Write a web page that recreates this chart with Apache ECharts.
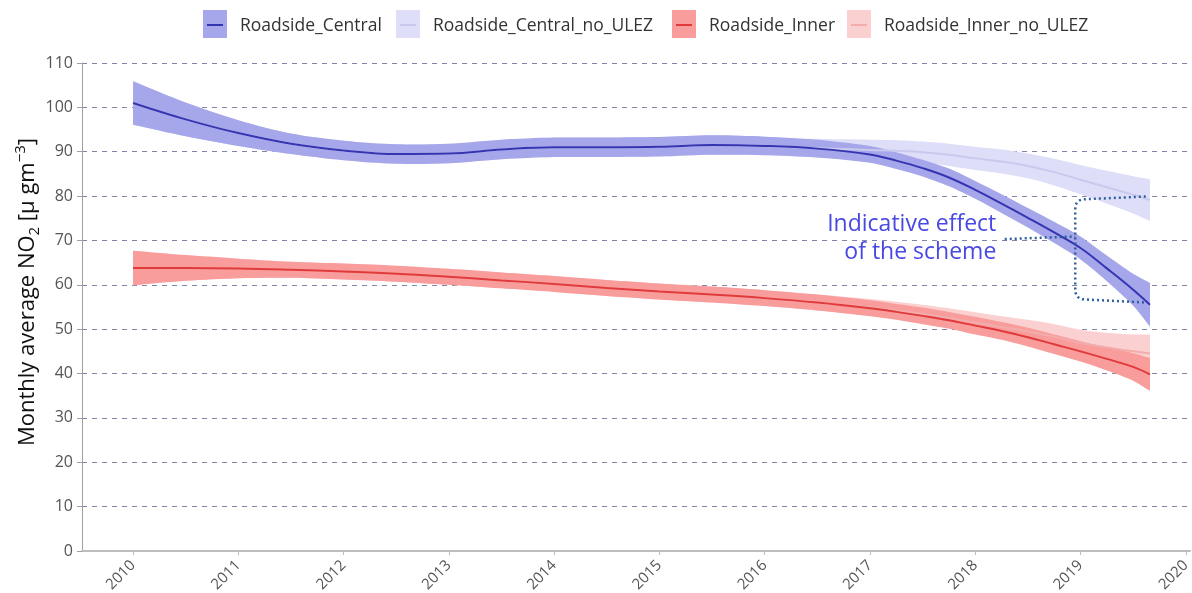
<!DOCTYPE html>
<html>
<head>
<meta charset="utf-8">
<title>Roadside NO2</title>
<script src="https://cdn.jsdelivr.net/npm/echarts@6/dist/echarts.min.js"></script>
<style>
  html, body { margin: 0; padding: 0; background: #fff; }
  #main { width: 1192px; height: 593px; }
</style>
</head>
<body>
<div id="main"></div>
<script>
// x 值（年份，小数）
const years = [2010, 2010.5, 2011, 2011.5, 2012, 2012.5, 2013, 2013.5, 2014, 2014.5, 2015, 2015.5, 2016, 2016.5,
	2017, 2017.25, 2017.5, 2017.75, 2018, 2018.25, 2018.5, 2018.75, 2019, 2019.25, 2019.5, 2019.66];
const yearTicks = [2010, 2011, 2012, 2013, 2014, 2015, 2016, 2017, 2018, 2019, 2020];

// 各序列的中心值 & 置信带半宽
const central = [101.0, 97.3, 94.2, 91.8, 90.3, 89.5, 89.6, 90.5, 91.0, 91.0, 91.1, 91.5, 91.3, 90.7,
	89.4, 88.0, 86.3, 84.2, 81.4, 78.3, 75.1, 71.8, 68.3, 63.7, 58.9, 55.5];
const centralHalf = [4.9, 3.8, 2.9, 2.3, 2.2, 2.2, 2.2, 2.2, 2.2, 2.2, 2.2, 2.2, 2.1, 2.0,
	1.9, 1.9, 1.9, 2.0, 2.0, 2.1, 2.2, 2.4, 2.6, 2.9, 3.6, 4.9];
const centralNoUlez = [101.0, 97.3, 94.2, 91.8, 90.3, 89.5, 89.6, 90.5, 91.0, 91.0, 91.1, 91.5, 91.3, 90.8,
	90.4, 90.2, 89.9, 89.3, 88.5, 87.8, 86.8, 85.4, 83.7, 82.0, 80.3, 79.1];
const centralNoUlezHalf = [4.9, 3.8, 2.9, 2.3, 2.2, 2.2, 2.2, 2.2, 2.2, 2.2, 2.2, 2.2, 2.1, 2.1,
	2.3, 2.4, 2.4, 2.5, 2.6, 2.7, 2.8, 3.0, 3.3, 3.7, 4.2, 4.7];
const inner = [63.8, 63.8, 63.7, 63.4, 63.0, 62.5, 61.8, 61.0, 60.2, 59.3, 58.5, 57.8, 57.0, 56.0,
	54.7, 53.9, 53.0, 52.0, 50.8, 49.6, 48.2, 46.6, 45.0, 43.3, 41.5, 39.8];
const innerHalf = [3.9, 2.9, 2.2, 1.8, 1.8, 1.8, 1.8, 1.8, 1.8, 1.8, 1.8, 1.8, 1.8, 1.8,
	1.8, 1.8, 1.9, 1.9, 2.0, 2.0, 2.1, 2.2, 2.3, 2.6, 3.1, 3.7];
const innerNoUlez = [63.8, 63.8, 63.7, 63.4, 63.0, 62.5, 61.8, 61.0, 60.2, 59.3, 58.5, 57.8, 57.0, 56.0,
	54.9, 54.2, 53.4, 52.5, 51.5, 50.5, 49.5, 48.3, 46.9, 45.9, 45.0, 44.5];
const innerNoUlezHalf = [3.9, 2.9, 2.2, 1.8, 1.8, 1.8, 1.8, 1.8, 1.8, 1.8, 1.8, 1.8, 1.8, 1.8,
	1.9, 2.0, 2.1, 2.2, 2.3, 2.4, 2.6, 2.8, 3.0, 3.3, 3.8, 4.3];

const names = ['Roadside_Central', 'Roadside_Central_no_ULEZ', 'Roadside_Inner', 'Roadside_Inner_no_ULEZ'];
const bandColors = ['#a6a6ea', '#dedef8', '#f99c9c', '#fbd0d0'];
const lineColors = ['#3535b2', '#c9c9ee', '#e03a3a', '#f2acac'];

const FONT = 'Open Sans';

// 置信带：custom 多边形（上沿 + 下沿倒序），端点重复 → 直角
function band(mid, half, color, z) {
	return {
		type: 'custom', silent: true, z: z, clip: true,
		data: years.map((x, i) => [x, mid[i] - half[i], mid[i] + half[i]]),
		encode: { x: 0, y: [1, 2] },
		renderItem: function (params, api) {
			if (params.dataIndex !== 0) return null;
			const n = years.length;
			const pts = [];
			for (let i = 0; i < n; i++) {
				const c = api.coord([years[i], mid[i] + half[i]]);
				pts.push(c);
				if (i === 0 || i === n - 1) pts.push(c.slice());
			}
			for (let i = n - 1; i >= 0; i--) {
				const c = api.coord([years[i], mid[i] - half[i]]);
				pts.push(c);
				if (i === 0 || i === n - 1) pts.push(c.slice());
			}
			return { type: 'polygon', shape: { points: pts, smooth: 0.3 }, style: { fill: color } };
		}
	};
}

function line(name, mid, color, z) {
	return {
		name: name, type: 'line', smooth: 0.4, symbol: 'none', silent: true, z: z,
		lineStyle: { color: color, width: 2 },
		data: years.map((x, i) => [x, mid[i]])
	};
}

const chart = echarts.init(document.getElementById('main'));

chart.setOption({
	animation: false,
	grid: { left: 82, right: 2, top: 63, bottom: 42, outerBoundsMode: 'none', containLabel: false },
	xAxis: {
		type: 'value', min: 2009.515, max: 2020.04,
		axisLine: { lineStyle: { color: '#bdbdbd', width: 2 } },
		axisTick: { show: true, customValues: yearTicks, length: 4, lineStyle: { color: '#bdbdbd' } },
		axisLabel: {
			customValues: yearTicks, rotate: 45, margin: 12,
			color: '#555', fontSize: 15, fontFamily: FONT,
			formatter: (v) => String(v)
		},
		splitLine: { show: false }
	},
	yAxis: {
		type: 'value', min: 0, max: 110, interval: 10,
		name: 'Monthly average NO{sub|2} [µ gm{sup|−3}]',
		nameLocation: 'middle', nameGap: 40, nameRotate: 90, nameMoveOverlap: false,
		nameTextStyle: {
			color: '#111', fontSize: 22, fontFamily: FONT, padding: [0, 0, 0, 30],
			rich: {
				sub: { fontSize: 15, color: '#111', fontFamily: FONT, verticalAlign: 'bottom', padding: [10, 0, 0, 0] },
				sup: { fontSize: 15, color: '#111', fontFamily: FONT, verticalAlign: 'top', padding: [0, 0, 14, 0] }
			}
		},
		axisLine: { show: true, lineStyle: { color: '#a0a0a0' } },
		axisTick: { show: true, length: 5, lineStyle: { color: '#a0a0a0' } },
		axisLabel: { color: '#555', fontSize: 16, fontFamily: FONT, margin: 9 },
		splitLine: { lineStyle: { color: '#8282aa', type: [5, 5], width: 1 } }
	},
	series: [
		band(centralNoUlez, centralNoUlezHalf, bandColors[1], 1),
		band(innerNoUlez, innerNoUlezHalf, bandColors[3], 1),
		band(central, centralHalf, bandColors[0], 2),
		band(inner, innerHalf, bandColors[2], 2),
		line(names[1], centralNoUlez, lineColors[1], 3),
		line(names[3], innerNoUlez, lineColors[3], 3),
		line(names[0], central, lineColors[0], 4),
		line(names[2], inner, lineColors[2], 4)
	]
});

// 图例（色块 + 线）
const legendX = [240, 433, 709, 884];
const graphic = [];
names.forEach((n, i) => {
	const tx = legendX[i];
	graphic.push({ type: 'rect', shape: { x: tx - 37, y: 10, width: 24, height: 28 }, style: { fill: bandColors[i] } });
	graphic.push({ type: 'line', shape: { x1: tx - 33, y1: 25, x2: tx - 17, y2: 25 }, style: { stroke: lineColors[i], lineWidth: 2 } });
	graphic.push({ type: 'text', x: tx, y: 26, style: { text: n, fill: '#333', font: '17.5px "' + FONT + '"', verticalAlign: 'middle' } });
});

// 注释：Indicative effect of the scheme（虚线括号）
const p = (x, y) => chart.convertToPixel({ gridIndex: 0 }, [x, y]);
const tr = p(2019.62, 79.9), tl = p(2018.95, 79.3), bl = p(2018.95, 56.7), br = p(2019.62, 56.0);
const r = 10;
function corner(a, c, b) {
	// a → c(拐点) → b 的二次曲线圆角
	const out = [];
	for (let k = 0; k <= 6; k++) {
		const t = k / 6;
		out.push([
			(1 - t) * (1 - t) * a[0] + 2 * (1 - t) * t * c[0] + t * t * b[0],
			(1 - t) * (1 - t) * a[1] + 2 * (1 - t) * t * c[1] + t * t * b[1]
		]);
	}
	return out;
}
const bracket = [tr].concat(
	corner([tl[0] + r, tl[1]], tl, [tl[0], tl[1] + r]),
	corner([bl[0], bl[1] - r], bl, [bl[0] + r, bl[1]]),
	[br]
);
const dotted = { stroke: '#2e5e9e', lineWidth: 2.5, lineDash: [2, 3], fill: null };
graphic.push({ type: 'polyline', shape: { points: bracket }, style: dotted, z: 10 });
const c0 = p(2018.28, 70.3), c1 = p(2018.95, 70.9);
graphic.push({ type: 'line', shape: { x1: c0[0], y1: c0[1], x2: c1[0], y2: c1[1] }, style: dotted, z: 10 });
const t = p(2018.2, 70.4);
graphic.push({
	type: 'text', x: t[0], y: t[1], z: 10,
	style: {
		text: 'Indicative effect\nof the scheme', fill: '#4848e4', font: '23px "' + FONT + '"',
		align: 'right', verticalAlign: 'middle', lineHeight: 28
	}
});

chart.setOption({ graphic: graphic });
</script>
</body>
</html>
